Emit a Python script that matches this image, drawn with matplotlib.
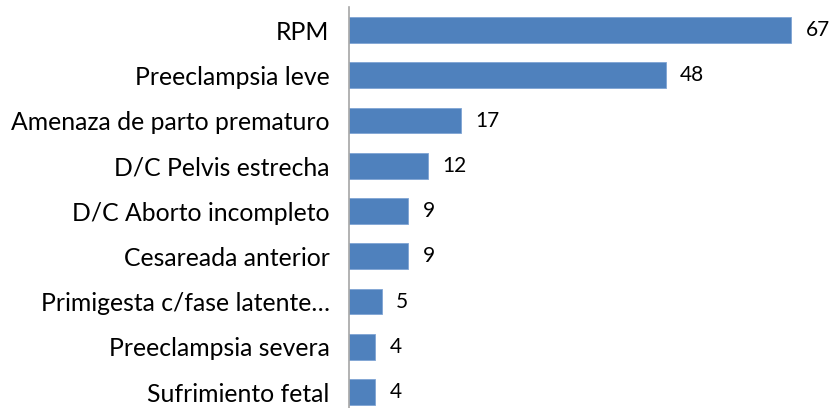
import matplotlib
matplotlib.use("Agg")
import matplotlib.pyplot as plt

categories = ["RPM", "Preeclampsia leve", "Amenaza de parto prematuro",
              "D/C Pelvis estrecha", "D/C Aborto incompleto", "Cesareada anterior",
              "Primigesta c/fase latente\u2026", "Preeclampsia severa", "Sufrimiento fetal"]
values = [67, 48, 17, 12, 9, 9, 5, 4, 4]

plt.rcParams['font.family'] = ['Lato', 'DejaVu Sans']

fig = plt.figure(figsize=(8.31, 4.08), dpi=100)
ax = fig.add_axes([349 / 831, 0, 482 / 831, 400.6 / 408])

pos = list(range(len(categories)))
ax.barh(pos, values, height=0.57, color="#4F81BD", edgecolor="#7FA4D4", linewidth=0.6)

for p, v in zip(pos, values):
    ax.annotate(str(v), (v, p), xytext=(14, 0), textcoords="offset pixels",
                va="center", ha="left", fontsize=15, color="black")

ax.set_ylim(8.353, -0.5)
ax.set_xlim(0, 73)
ax.set_yticks(pos)
ax.set_yticklabels(categories, fontsize=17.8)
ax.tick_params(axis="y", length=0, pad=14)
ax.set_xticks([])
for s in ["top", "right", "bottom"]:
    ax.spines[s].set_visible(False)
ax.spines["left"].set_color("#A6A6A6")
ax.spines["left"].set_linewidth(1.2)

fig.savefig("out.png", dpi=100)
